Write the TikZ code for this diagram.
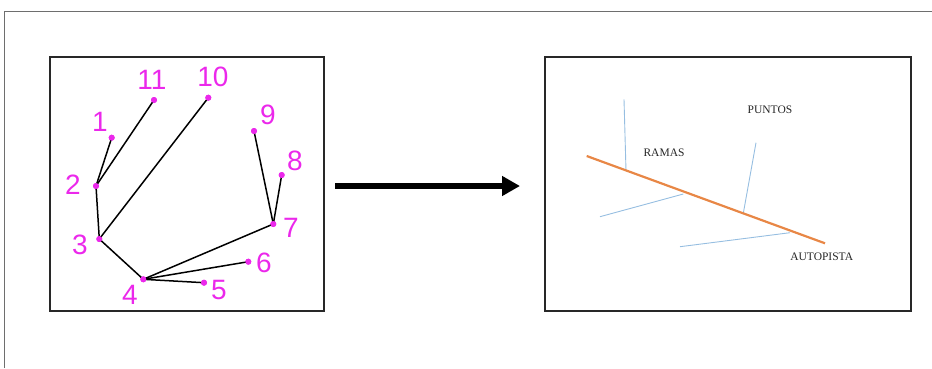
\documentclass[tikz,border=0pt]{standalone}
\usepackage{fontspec}
\setmainfont{Liberation Serif}
\newfontfamily\digfont{Liberation Sans}
\usetikzlibrary{arrows.meta}
\definecolor{mag}{RGB}{235,40,235}
\definecolor{orng}{RGB}{232,135,70}
\definecolor{lblue}{RGB}{150,190,225}
\definecolor{frame}{RGB}{110,110,110}
\definecolor{boxc}{RGB}{40,40,40}
\begin{document}
\begin{tikzpicture}[x=1pt,y=-1pt,
  pt/.style={circle,fill=mag,inner sep=0pt,minimum size=6pt},
  num/.style={text=mag,font=\digfont\fontsize{28}{28}\selectfont,inner sep=0pt},
  edge/.style={black,line width=1.5pt},
  panel/.style={draw=boxc,line width=1.4pt},
  lab/.style={font=\fontsize{11.5}{12}\selectfont,inner sep=0pt,text=black!85},
  branch/.style={lblue,line width=0.9pt}]
\useasboundingbox (0,0) rectangle (932,368);
% outer frame (open at right and bottom)
\draw[frame,line width=0.9pt] (4.5,368) -- (4.5,11) -- (932,11);
% panels
\draw[panel] (50,57) rectangle (324,311);
\draw[panel] (545,57) rectangle (911,311);
% points
\node[pt] (p1) at (111.7,137.7) {};
\node[pt] (p2) at (96,186) {};
\node[pt] (p3) at (99.3,239) {};
\node[pt] (p4) at (143.3,279.3) {};
\node[pt] (p5) at (204,282.7) {};
\node[pt] (p6) at (248.3,261.7) {};
\node[pt] (p7) at (273.3,224) {};
\node[pt] (p8) at (281.7,175) {};
\node[pt] (p9) at (254,131) {};
\node[pt] (p10) at (208.3,97.7) {};
\node[pt] (p11) at (154,100) {};
% labels
\node[num] (l1) at (100,122) {1};
\node[num] (l2) at (73,185) {2};
\node[num] (l3) at (80,245) {3};
\node[num] (l4) at (130,295) {4};
\node[num] (l5) at (219,290) {5};
\node[num] (l6) at (264,263) {6};
\node[num] (l7) at (291,228) {7};
\node[num] (l8) at (295,161) {8};
\node[num] (l9) at (268,115) {9};
\node[num] (l10) at (213,77) {10};
\node[num] (l11) at (152,80) {11};
% edges
\draw[edge] (p1.center) -- (p2.center);
\draw[edge] (p11.center) -- (p2.center);
\draw[edge] (p2.center) -- (p3.center);
\draw[edge] (p10.center) -- (p3.center);
\draw[edge] (p3.center) -- (p4.center);
\draw[edge] (p4.center) -- (p5.center);
\draw[edge] (p4.center) -- (p6.center);
\draw[edge] (p4.center) -- (p7.center);
\draw[edge] (p7.center) -- (p9.center);
\draw[edge] (p7.center) -- (p8.center);
% redraw dots on top
\foreach \i in {1,...,11} \fill[mag] (p\i.center) circle (3pt);
% arrow
\coordinate (a1) at (335,186);
\coordinate (a2) at (520,186);
\draw[line width=5.5pt,-{Triangle[length=18pt,width=19pt]}] (a1) -- (a2);
% right panel
\coordinate (o1) at (586.7,156);
\coordinate (o2) at (825,243.3);
\coordinate (b1s) at (624,99.3);  \coordinate (b1e) at (626,170.7);
\coordinate (b2s) at (600,216.7); \coordinate (b2e) at (683.3,194);
\coordinate (b3s) at (756,142.7); \coordinate (b3e) at (743.3,213.3);
\coordinate (b4s) at (680,246.7); \coordinate (b4e) at (790,232.7);
\draw[branch] (b1s) -- (b1e);
\draw[branch] (b2s) -- (b2e);
\draw[branch] (b3s) -- (b3e);
\draw[branch] (b4s) -- (b4e);
\draw[orng,line width=2.2pt] (o1) -- (o2);
\node[lab] (puntos) at (770,109.3) {PUNTOS};
\node[lab] (ramas) at (664,152.7) {RAMAS};
\node[lab] (auto) at (821.7,256.7) {AUTOPISTA};
\end{tikzpicture}
\end{document}
